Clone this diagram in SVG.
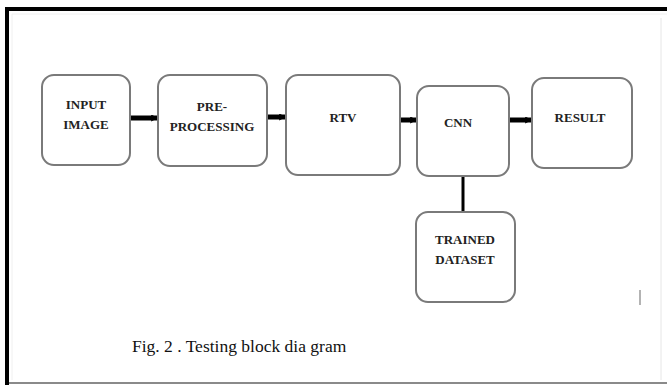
<svg xmlns="http://www.w3.org/2000/svg" width="667" height="385" viewBox="0 0 667 385">
  <defs>
    <style>
      .box { fill: #ffffff; stroke: #7a7a7a; stroke-width: 2; }
      .lbl { font-family: "Liberation Serif", "Times New Roman", serif; font-weight: bold; font-size: 13px; fill: #222222; text-anchor: middle; }
      .link { stroke: #000000; stroke-width: 5; fill: none; }
      .cap { font-family: "Liberation Serif", "Times New Roman", serif; font-size: 17.5px; fill: #111111; }
    </style>
    <marker id="head" viewBox="0 0 6 6" refX="5" refY="3" markerWidth="1.4" markerHeight="1.4" orient="auto" markerUnits="strokeWidth">
      <path d="M0,0 L6,3 L0,6 Z" fill="#000000"/>
    </marker>
  </defs>

  <!-- page background and frame -->
  <rect x="0" y="0" width="667" height="385" fill="#ffffff"/>
  <line x1="12" y1="14" x2="12" y2="380" stroke="#f0f0f0" stroke-width="1"/>
  <line x1="12" y1="14" x2="667" y2="14" stroke="#f0f0f0" stroke-width="1"/>
  <line x1="661" y1="18" x2="661" y2="380" stroke="#e6e6e6" stroke-width="1"/>
  <line x1="7" y1="9" x2="667" y2="9" stroke="#000000" stroke-width="4"/>
  <line x1="7" y1="7" x2="7" y2="385" stroke="#000000" stroke-width="4"/>
  <line x1="9" y1="383" x2="667" y2="383" stroke="#8a8a8a" stroke-width="2"/>
  <line x1="640" y1="290" x2="640" y2="305" stroke="#9a9a9a" stroke-width="1.5"/>

  <!-- connectors -->
  <g id="connectors">
    <line class="link" x1="130" y1="118" x2="157" y2="118" marker-end="url(#head)"/>
    <line class="link" x1="267" y1="117" x2="285" y2="117" marker-end="url(#head)"/>
    <line class="link" x1="400" y1="120" x2="416" y2="120" marker-end="url(#head)"/>
    <line class="link" x1="509" y1="120" x2="531" y2="120" marker-end="url(#head)"/>
    <line x1="463" y1="176" x2="463" y2="212" stroke="#000000" stroke-width="3"/>
  </g>

  <!-- nodes -->
  <g id="input-image">
    <rect class="box" x="42" y="75" width="88" height="90" rx="12"/>
    <text class="lbl" x="86" y="109">INPUT</text>
    <text class="lbl" x="86" y="129">IMAGE</text>
  </g>
  <g id="pre-processing">
    <rect class="box" x="158" y="75" width="109" height="91" rx="12"/>
    <text class="lbl" x="212" y="111">PRE-</text>
    <text class="lbl" x="212" y="131">PROCESSING</text>
  </g>
  <g id="rtv">
    <rect class="box" x="286" y="75" width="114" height="100" rx="12"/>
    <text class="lbl" x="343" y="122">RTV</text>
  </g>
  <g id="cnn">
    <rect class="box" x="417" y="86" width="92" height="90" rx="12"/>
    <text class="lbl" x="458" y="127">CNN</text>
  </g>
  <g id="result">
    <rect class="box" x="532" y="78" width="100" height="90" rx="12"/>
    <text class="lbl" x="580" y="122">RESULT</text>
  </g>
  <g id="trained-dataset">
    <rect class="box" x="416" y="212" width="99" height="90" rx="12"/>
    <text class="lbl" x="465" y="244">TRAINED</text>
    <text class="lbl" x="465" y="264">DATASET</text>
  </g>

  <!-- caption -->
  <text class="cap" x="132" y="352">Fig. 2 . Testing block dia gram</text>
</svg>
